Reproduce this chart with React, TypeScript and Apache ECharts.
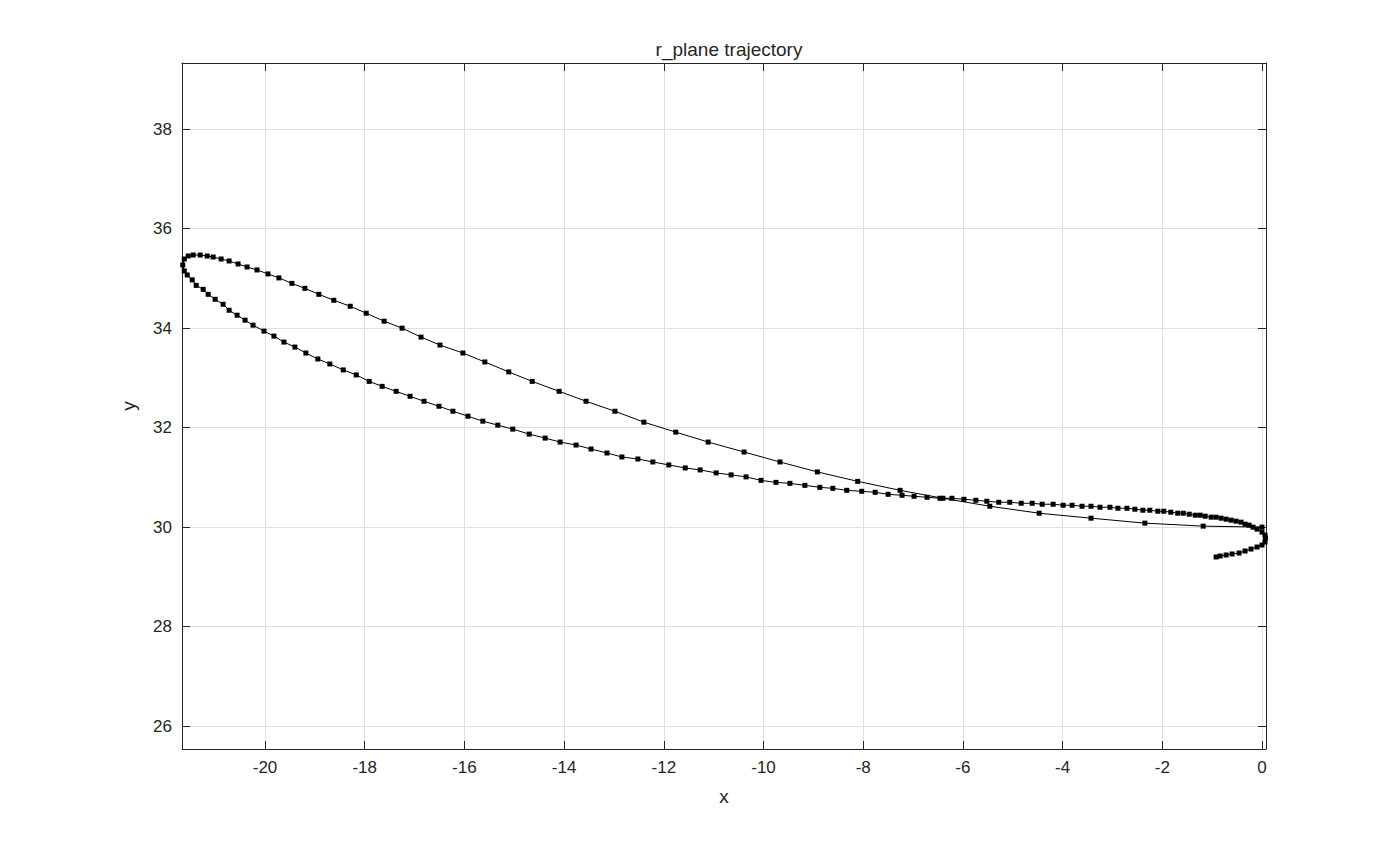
import React, { useEffect, useRef } from "react";
import * as echarts from "echarts";

const xs = [0.0, -1.18, -2.35, -3.43, -4.47, -5.46, -6.40, -7.26, -8.11, -8.92, -9.67, -10.39, -11.11, -11.76, -12.40,
  -12.98, -13.56, -14.10, -14.64, -15.11, -15.59, -16.03, -16.49, -16.87, -17.25, -17.61, -17.97, -18.29, -18.62, -18.92,
  -19.20, -19.46, -19.72, -19.94, -20.16, -20.36, -20.54, -20.72, -20.88, -21.04, -21.16, -21.30, -21.44, -21.54, -21.62,
  -21.65, -21.62, -21.56, -21.46, -21.38, -21.24, -21.14, -21.00, -20.84, -20.72, -20.56, -20.40, -20.24, -20.02, -19.82,
  -19.62, -19.40, -19.18, -18.94, -18.70, -18.43, -18.17, -17.91, -17.65, -17.37, -17.09, -16.81, -16.51, -16.23, -15.93,
  -15.63, -15.33, -15.03, -14.70, -14.38, -14.08, -13.76, -13.46, -13.14, -12.84, -12.52, -12.22, -11.90, -11.57, -11.27,
  -10.95, -10.65, -10.35, -10.05, -9.75, -9.47, -9.17, -8.87, -8.61, -8.33, -8.03, -7.76, -7.50, -7.22, -6.98, -6.72,
  -6.46, -6.22, -5.98, -5.74, -5.52, -5.28, -5.06, -4.83, -4.61, -4.41, -4.19, -3.99, -3.81, -3.61, -3.43, -3.25, -3.05,
  -2.89, -2.71, -2.55, -2.39, -2.25, -2.09, -1.97, -1.83, -1.69, -1.58, -1.46, -1.34, -1.24, -1.14, -1.02, -0.92, -0.82,
  -0.72, -0.62, -0.52, -0.42, -0.34, -0.26, -0.18, -0.10, 0.0, 0.06, 0.07, 0.06, 0.0, -0.10, -0.22, -0.34, -0.46, -0.60,
  -0.72, -0.84, -0.92];
const ys = [30.0, 30.02, 30.08, 30.18, 30.28, 30.42, 30.58, 30.74, 30.92, 31.11, 31.31, 31.51, 31.71, 31.91, 32.11,
  32.33, 32.53, 32.73, 32.93, 33.12, 33.32, 33.50, 33.66, 33.82, 34.00, 34.14, 34.30, 34.44, 34.56, 34.68,
  34.80, 34.90, 35.01, 35.09, 35.17, 35.23, 35.29, 35.35, 35.39, 35.43, 35.45, 35.47, 35.47, 35.45, 35.39,
  35.27, 35.15, 35.07, 34.97, 34.86, 34.78, 34.68, 34.58, 34.48, 34.36, 34.26, 34.16, 34.06, 33.94, 33.84,
  33.72, 33.62, 33.50, 33.38, 33.28, 33.16, 33.06, 32.93, 32.83, 32.73, 32.63, 32.53, 32.43, 32.33, 32.23,
  32.13, 32.05, 31.97, 31.87, 31.79, 31.71, 31.65, 31.57, 31.49, 31.41, 31.37, 31.31, 31.25, 31.19, 31.15,
  31.09, 31.05, 31.01, 30.94, 30.90, 30.88, 30.84, 30.80, 30.78, 30.74, 30.72, 30.70, 30.66, 30.64, 30.62, 30.60,
  30.58, 30.58, 30.56, 30.54, 30.52, 30.50, 30.50, 30.48, 30.48, 30.46, 30.46, 30.44, 30.44, 30.42, 30.42, 30.40, 30.40,
  30.38, 30.38, 30.36, 30.34, 30.34, 30.32, 30.32, 30.30, 30.28, 30.28, 30.26, 30.24, 30.24, 30.22, 30.20, 30.20, 30.18,
  30.16, 30.14, 30.12, 30.10, 30.06, 30.04, 30.00, 29.96, 29.90, 29.84, 29.78, 29.70, 29.64, 29.60, 29.56, 29.52, 29.48, 29.46,
  29.44, 29.42, 29.40];
const xTicks = [-20, -18, -16, -14, -12, -10, -8, -6, -4, -2, 0];
const yTicks = [26, 28, 30, 32, 34, 36, 38];

const FONT = "Liberation Sans, Arial, sans-serif";

export default function App() {
  const ref = useRef<HTMLDivElement>(null);
  useEffect(() => {
    const chart = echarts.init(ref.current!, null, { renderer: "svg" });
    const axisCommon = (ticks: number[], show: boolean) => ({
      axisLine: { show: true, onZero: false, lineStyle: { color: "#262626", width: 1 } },
      axisTick: { show: true, inside: true, length: 8, customValues: ticks, lineStyle: { color: "#262626" } },
      axisLabel: show
        ? { show: true, customValues: ticks, color: "#262626", fontSize: 17, fontFamily: FONT, margin: 10 }
        : { show: false },
      splitLine: show ? { show: true, lineStyle: { color: "#dfdfdf", width: 1 } } : { show: false },
    });
    chart.setOption({
      animation: false,
      backgroundColor: "#ffffff",
      title: {
        text: "r_plane trajectory",
        left: 724,
        top: 35,
        textAlign: "center",
        textStyle: { fontSize: 19, fontWeight: "normal", color: "#262626", fontFamily: FONT },
      },
      grid: { left: 182, right: 133, top: 63, bottom: 94, show: false },
      xAxis: [
        { type: "value", min: -21.665, max: 0.08, position: "bottom", name: "x", nameLocation: "middle", nameGap: 38,
          nameTextStyle: { fontSize: 19, color: "#262626", fontFamily: FONT }, ...axisCommon(xTicks, true) },
        { type: "value", min: -21.665, max: 0.08, position: "top", ...axisCommon(xTicks, false) },
      ],
      yAxis: [
        { type: "value", min: 25.54, max: 39.33, position: "left", name: "y", nameLocation: "middle", nameGap: 44,
          nameTextStyle: { fontSize: 19, color: "#262626", fontFamily: FONT }, ...axisCommon(yTicks, true) },
        { type: "value", min: 25.54, max: 39.33, position: "right", ...axisCommon(yTicks, false) },
      ],
      series: [
        {
          type: "line",
          data: xs.map((x, i) => [x, ys[i]]),
          symbol: "rect",
          symbolSize: 5,
          showSymbol: true,
          showAllSymbol: true,
          itemStyle: { color: "#000000" },
          lineStyle: { color: "#000000", width: 1 },
        },
      ],
    });
    return () => chart.dispose();
  }, []);
  return (
    <div
      ref={ref}
      style={{ position: "absolute", left: 0, top: 0, width: 1399, height: 843, background: "#ffffff" }}
    />
  );
}
